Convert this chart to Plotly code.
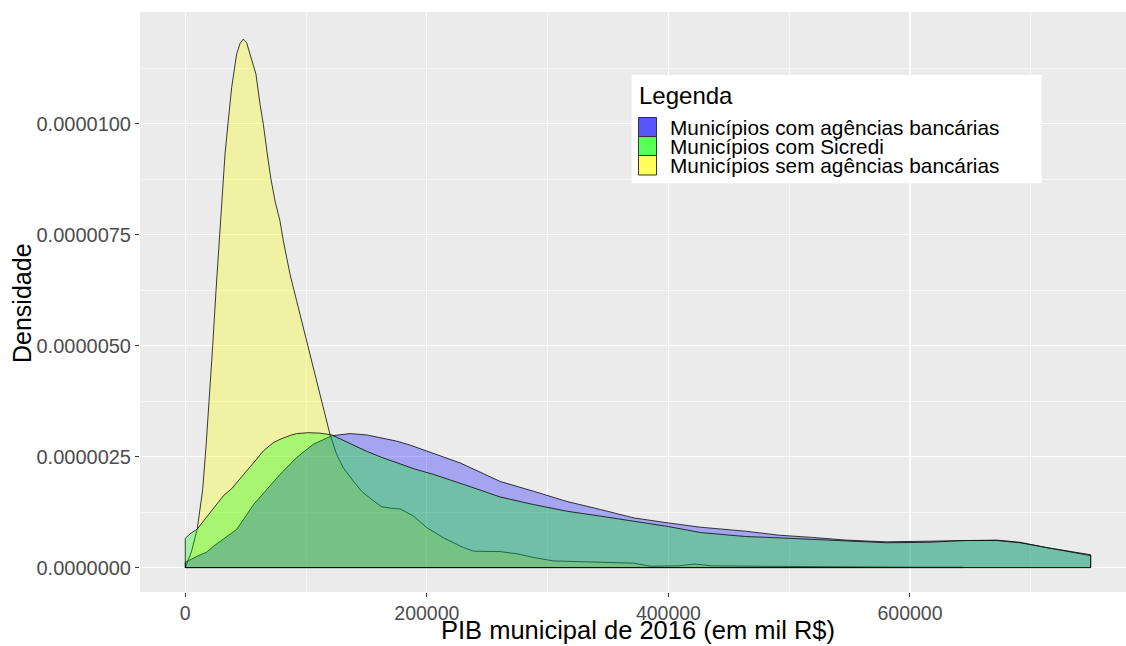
import numpy as np
import plotly.graph_objects as go

# ---------------- data ----------------
series_names = ["Municípios com agências bancárias",
                "Municípios com Sicredi",
                "Municípios sem agências bancárias"]

# PIB municipal (mil R$) and density (in units of 1e-6)
sem_x = [0, 5000, 9900, 14400, 17100, 19900, 22600, 25400, 28200, 31000, 32900,
         35600, 38400, 42500, 45300, 48000, 50800, 53600, 58500, 61900, 64600,
         67900, 70700, 74300, 78400, 81200, 86700, 92200, 97700, 103200, 108800,
         114300, 119800, 125300, 130800, 139100, 146000, 155000, 162700, 170000,
         178000, 189000, 200000, 213800, 230400, 238700, 260800, 274600, 290000,
         305000, 329800, 352000, 371300, 385100, 398900, 408600, 422000, 436000,
         470000, 510000, 560000, 600000, 644000]
sem_d = [0.0, 0.35, 0.87, 1.76, 2.70, 3.75, 4.96, 6.23, 7.36, 8.56, 9.32,
         10.07, 10.82, 11.57, 11.81, 11.91, 11.83, 11.57, 11.12, 10.44, 9.99,
         9.32, 8.79, 8.26, 7.81, 7.36, 6.61, 6.01, 5.41, 4.81, 4.21,
         3.60, 3.00, 2.55, 2.25, 1.95, 1.72, 1.52, 1.37, 1.34,
         1.32, 1.16, 0.90, 0.67, 0.45, 0.37, 0.36, 0.31, 0.22,
         0.15, 0.13, 0.10, 0.10, 0.03, 0.03, 0.04, 0.08, 0.04,
         0.03, 0.02, 0.02, 0.01, 0.01]

com_x = [0, 9400, 17700, 23300, 30000, 42500, 56500, 67400, 78400, 92200, 106000,
         121200, 136400, 150200, 164100, 175000, 186200, 199900, 213000, 227400,
         244200, 260800, 288400, 316000, 343600, 371300, 398900, 426500, 464000,
         491700, 519400, 547100, 580300, 616300, 644000, 671700, 691100, 713300,
         749600]
com_d = [0.12, 0.25, 0.35, 0.48, 0.62, 0.86, 1.42, 1.76, 2.10, 2.48, 2.78,
         2.97, 3.02, 2.99, 2.91, 2.85, 2.76, 2.63, 2.50, 2.36,
         2.15, 1.94, 1.72, 1.49, 1.31, 1.12, 1.01, 0.91, 0.82,
         0.73, 0.68, 0.62, 0.58, 0.60, 0.62, 0.62, 0.57, 0.45,
         0.29]

sic_x = [0, 3900, 9900, 20000, 31600, 38400, 45400, 50800, 59300, 64600, 73100,
         78400, 87000, 92200, 101800, 111500, 121200, 133600, 150200, 163000,
         177900, 190000, 205500, 219000, 233100, 247000, 260800, 288400, 316000,
         343600, 371300, 398900, 426500, 464000, 491700, 519400, 547100, 580300,
         616300, 644000, 671700, 691100, 713300, 749600]
sic_d = [0.66, 0.76, 0.87, 1.22, 1.62, 1.78, 2.02, 2.18, 2.45, 2.63, 2.82,
         2.89, 2.98, 3.02, 3.04, 3.03, 2.99, 2.83, 2.62, 2.48,
         2.34, 2.22, 2.10, 1.97, 1.85, 1.72, 1.59, 1.42, 1.27,
         1.16, 1.04, 0.93, 0.79, 0.70, 0.67, 0.64, 0.61, 0.56,
         0.57, 0.61, 0.61, 0.56, 0.45, 0.27]

x_tickvals = [0, 200000, 400000, 600000]
x_ticktext = ["0", "200000", "400000", "600000"]
x_minor = [100000, 300000, 500000, 700000]
y_tickvals_e6 = [0, 2.5, 5.0, 7.5, 10.0]
y_ticktext = ["0.0000000", "0.0000025", "0.0000050", "0.0000075", "0.0000100"]
y_minor_e6 = [1.25, 3.75, 6.25, 8.75, 11.25]

# ---------------- styling ----------------
FONT = "Liberation Sans, Arial, sans-serif"
fills = {
    "sem": "rgba(255,255,0,0.3)",
    "com": "rgba(0,0,255,0.3)",
    "sic": "rgba(0,255,0,0.3)",
}
key_colors = ["rgb(87,87,255)", "rgb(87,255,87)", "rgb(255,255,87)"]

W, H = 1126, 646
L, R, T, B = 140, 0, 12, 54
PW, PH = W - L - R, H - T - B


def px(xp):
    return (xp - L) / PW


def py(yp):
    return (H - B - yp) / PH


def polygon(xs, ds):
    xs = list(xs)
    ys = list(np.array(ds) * 1e-6)
    return [xs[0]] + xs + [xs[-1], xs[0]], [0.0] + ys + [0.0, 0.0]


fig = go.Figure()
for key, xs, ds, name in [("sem", sem_x, sem_d, series_names[2]),
                          ("com", com_x, com_d, series_names[0]),
                          ("sic", sic_x, sic_d, series_names[1])]:
    px_, py_ = polygon(xs, ds)
    fig.add_trace(go.Scatter(
        x=px_, y=py_, mode="lines", fill="toself", fillcolor=fills[key],
        line=dict(color="rgba(0,0,0,0.85)", width=0.9), name=name,
        showlegend=False, hoverinfo="skip"))

fig.update_layout(
    width=W, height=H,
    margin=dict(l=L, r=R, t=T, b=B, pad=0),
    paper_bgcolor="white", plot_bgcolor="#EBEBEB",
    font=dict(family=FONT, size=20, color="#4D4D4D"),
    showlegend=False, hovermode=False,
)
fig.update_xaxes(
    range=[-37500, (W - R - 185.3) / 0.0012078],
    tickvals=x_tickvals, ticktext=x_ticktext, automargin=False,
    showgrid=True, gridcolor="white", gridwidth=1.2, zeroline=False,
    ticks="outside", ticklen=4, tickcolor="#333333", tickwidth=1,
    tickfont=dict(size=19.5, color="#4D4D4D"),
    minor=dict(tickvals=x_minor, showgrid=True, gridcolor="white", gridwidth=0.6, ticks=""),
    showline=False,
)
fig.update_yaxes(
    range=[-0.55e-6, 12.52e-6], automargin=False,
    tickvals=[v * 1e-6 for v in y_tickvals_e6], ticktext=y_ticktext,
    showgrid=True, gridcolor="white", gridwidth=1.2, zeroline=False,
    ticks="outside", ticklen=4, tickcolor="#333333", tickwidth=1,
    tickfont=dict(size=20, color="#4D4D4D"),
    minor=dict(tickvals=[v * 1e-6 for v in y_minor_e6], showgrid=True,
               gridcolor="white", gridwidth=0.6, ticks=""),
    showline=False,
)

annotations = [
    dict(text="PIB municipal de 2016 (em mil R$)", xref="paper", yref="paper",
         x=px(638), y=py(646), xanchor="center", yanchor="bottom", showarrow=False,
         font=dict(family=FONT, size=25.5, color="black")),
    dict(text="Densidade", xref="paper", yref="paper", textangle=-90,
         x=px(22), y=py(303), xanchor="center", yanchor="middle", showarrow=False,
         font=dict(family=FONT, size=25, color="black")),
    dict(text="Legenda", xref="paper", yref="paper",
         x=px(637), y=py(95), xanchor="left", yanchor="middle", showarrow=False,
         font=dict(family=FONT, size=24, color="black")),
]
shapes = [dict(type="rect", xref="paper", yref="paper",
               x0=px(631.7), x1=px(1041.7), y0=py(183.3), y1=py(75),
               fillcolor="white", line=dict(width=0), layer="above")]

key_top = [117.5, 136.5, 155.5]
key_h = 19.5
text_center = [128, 146.5, 165.5]
for i, (nm, col) in enumerate(zip(series_names, key_colors)):
    t = key_top[i]
    shapes.append(dict(type="rect", xref="paper", yref="paper",
                       x0=px(638.5), x1=px(656.5), y0=py(t + key_h), y1=py(t),
                       fillcolor=col, line=dict(color="#333333", width=1), layer="above"))
    annotations.append(dict(text=nm, xref="paper", yref="paper",
                            x=px(668), y=py(text_center[i]), xanchor="left", yanchor="middle",
                            showarrow=False, font=dict(family=FONT, size=20.8, color="black")))

fig.update_layout(annotations=annotations, shapes=shapes)
fig.write_html(
    "out.html",
    config={"displayModeBar": False, "staticPlot": True},
    post_script="document.body.style.margin='0';document.body.style.padding='0';"
                "document.documentElement.style.overflow='hidden';",
)
